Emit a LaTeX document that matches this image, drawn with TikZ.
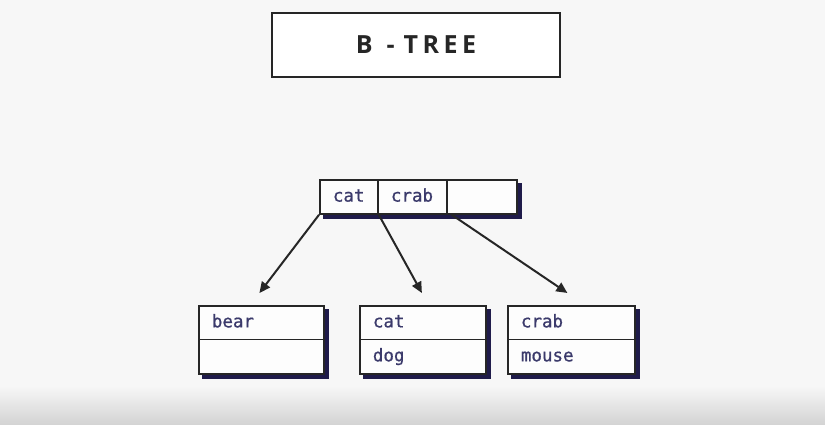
\documentclass[tikz,border=0pt]{standalone}
\usepackage{fontspec}
\usetikzlibrary{arrows.meta}
\newfontfamily\monof[FakeBold=0.8]{DejaVu Sans Mono}
\newfontfamily\titlef[LetterSpace=18]{Open Sans}
\definecolor{bgc}{HTML}{F7F7F7}
\definecolor{linec}{HTML}{262626}
\definecolor{shadowc}{HTML}{1F1B4A}
\definecolor{txtc}{HTML}{3B3A6B}
\definecolor{cellc}{HTML}{FDFDFD}
\pgfdeclarelayer{bg}
\pgfsetlayers{bg,main}
\tikzset{
  cell/.style={draw=linec, line width=1.8pt, fill=cellc, anchor=north west,
    minimum height=34pt, inner xsep=13pt, inner ysep=0pt, align=left,
    text height=12pt, text depth=2.6pt,
    font=\monof\fontsize{17.5}{20}\selectfont, text=txtc},
  shad/.style={fill=shadowc},
  link/.style={draw=linec, line width=2pt, -{Triangle[length=11pt,width=10pt]}},
  titlebox/.style={draw=linec, line width=2pt, fill=white, minimum width=288pt,
    minimum height=64pt, anchor=north west, text=linec,
    font=\titlef\bfseries\fontsize{25}{28}\selectfont}
}
\begin{document}
\begin{tikzpicture}[x=1pt,y=-1pt]
\useasboundingbox (0,0) rectangle (825,424);
% title
\node[titlebox] (title) at (271,12) {\mbox{B}\kern14pt\mbox{-}\kern9pt\mbox{TREE}};
% root
\node[cell, text width=32pt, minimum width=58pt] (r1) at (319,179) {cat};
\node[cell, text width=43pt, minimum width=69pt] (r2) at (377,179) {crab};
\node[cell, text width=44pt, minimum width=70pt] (r3) at (446,179) {};
% leaves
\node[cell, text width=99pt, minimum width=125pt, minimum height=33.5pt] (a1) at (198,305) {bear};
\node[cell, text width=99pt, minimum width=125pt, minimum height=34.5pt] (a2) at (198,338.5) {};
\node[cell, text width=100pt, minimum width=126pt, minimum height=33.5pt] (b1) at (359,305) {cat};
\node[cell, text width=100pt, minimum width=126pt, minimum height=34.5pt] (b2) at (359,338.5) {dog};
\node[cell, text width=101pt, minimum width=127pt, minimum height=33.5pt] (c1) at (507,305) {crab};
\node[cell, text width=101pt, minimum width=127pt, minimum height=34.5pt] (c2) at (507,338.5) {mouse};
% background and shadows
\begin{pgfonlayer}{bg}
  \fill[bgc] (0,0) rectangle (825,424);
  \shade[top color=bgc, bottom color=black!17, draw=none] (0,386) rectangle (825,424);
  \fill[shad] ([shift={(4,4)}]r1.north west) rectangle ([shift={(4,4)}]r3.south east);
  \fill[shad] ([shift={(4,4)}]a1.north west) rectangle ([shift={(4,4)}]a2.south east);
  \fill[shad] ([shift={(4,4)}]b1.north west) rectangle ([shift={(4,4)}]b2.south east);
  \fill[shad] ([shift={(4,4)}]c1.north west) rectangle ([shift={(4,4)}]c2.south east);
\end{pgfonlayer}
% connectors
\coordinate (s3) at ([xshift=4pt]r2.south east);
\draw[link] (r1.south west) -- ([shift={(-2,-12)}]a1.north);
\draw[link] (r1.south east) -- ([shift={(-1,-12)}]b1.north);
\draw[link] (s3) -- ([shift={(-4,-12)}]c1.north);
\end{tikzpicture}
\end{document}
